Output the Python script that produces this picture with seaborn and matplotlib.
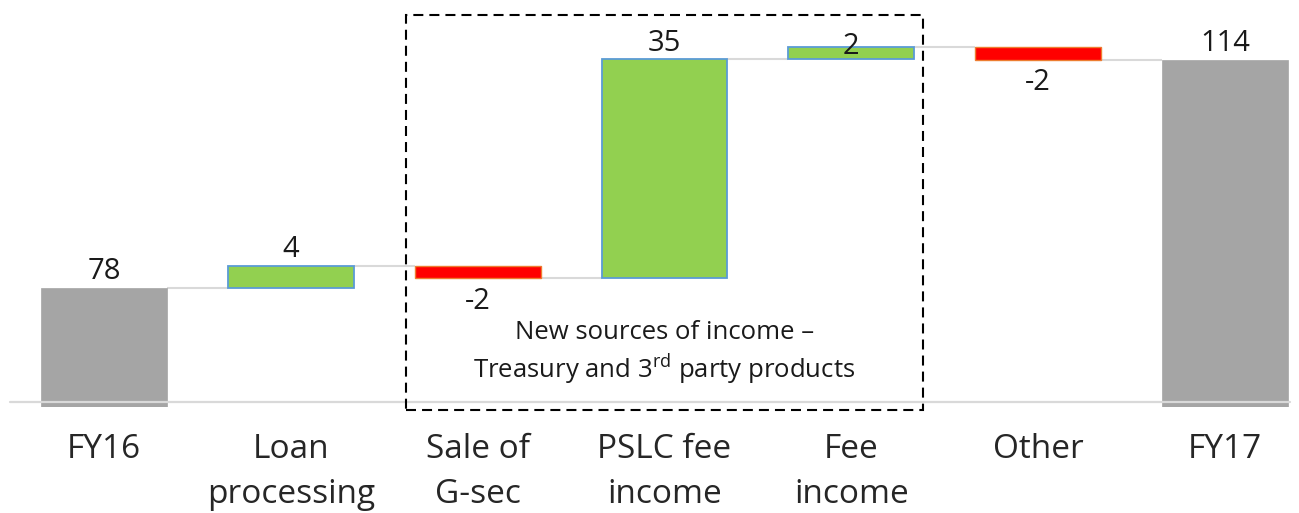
import matplotlib
matplotlib.use("Agg")
import matplotlib.pyplot as plt
import seaborn as sns
import pandas as pd
from matplotlib.patches import Rectangle

# ---- data ----
categories = ["FY16", "Loan\nprocessing", "Sale of\nG-sec", "PSLC fee\nincome",
              "Fee\nincome", "Other", "FY17"]
changes = [78, 3.5, -2.0, 34.6, 2.0, -2.1, 114]
kinds = ["total", "increase", "decrease", "increase", "increase", "decrease", "total"]
value_labels = ["78", "4", "-2", "35", "2", "-2", "114"]
box_text = "New sources of income \u2013\nTreasury and 3$^{\\mathregular{rd}}$ party products"

# ---- waterfall geometry from data ----
bottoms, ends = [], []
cum = 0.0
for c, k in zip(changes, kinds):
    if k == "total":
        bottoms.append(0.0)
        cum = c
    else:
        bottoms.append(cum)
        cum = cum + c
    ends.append(cum)

df = pd.DataFrame({"cat": categories, "height": changes, "bottom": bottoms, "kind": kinds})

sns.set_theme(style="white")
plt.rcParams["font.family"] = ["Open Sans", "DejaVu Sans"]
plt.rcParams["mathtext.fontset"] = "custom"
plt.rcParams["mathtext.rm"] = "Open Sans"

fig = plt.figure(figsize=(12.99, 5.13), dpi=100)
ax = fig.add_axes([0, 1 - 407 / 513, 1, 407 / 513])

styles = {
    "total": dict(color="#A5A5A5", edgecolor="#A5A5A5", linewidth=0.5),
    "increase": dict(color="#92D050", edgecolor="#5B9BD5", linewidth=1.3),
    "decrease": dict(color="#FF0000", edgecolor="#ED7D31", linewidth=1.0),
}
bar_w = 0.674
for kind, st in styles.items():
    sub = df[df["kind"] == kind]
    sns.barplot(data=sub, x="cat", y="height", order=categories,
                bottom=sub["bottom"].to_numpy(), width=bar_w,
                errorbar=None, saturation=1, ax=ax, zorder=3, **st)

# connectors
for i in range(len(categories) - 1):
    ax.hlines(ends[i], i + bar_w / 2, i + 1 - bar_w / 2, color="#D9D9D9", lw=1.5, zorder=2)

# baseline
ax.axhline(60, xmin=10 / 1299, xmax=1290 / 1299, color="#D9D9D9", lw=1.6, zorder=4)

# value labels
text_color = "#1A1A1A"
for i, (lab, k) in enumerate(zip(value_labels, kinds)):
    top = max(ends[i], bottoms[i]) if k != "total" else changes[i]
    if k == "decrease":
        ax.annotate(lab, (i, ends[i]), xytext=(0, -6.0), textcoords="offset points",
                    ha="center", va="top", fontsize=21, color=text_color)
    else:
        off = 6.3
        if categories[i] == "Fee\nincome":
            off = -5.3
        ax.annotate(lab, (i, top), xytext=(0, off), textcoords="offset points",
                    ha="center", va="baseline", fontsize=21, color=text_color, zorder=5)

# dashed box and its text
ax.add_patch(Rectangle((1.617, 58.74), 4.384 - 1.617, 121.1 - 58.74, fill=False,
                       edgecolor="black", lw=1.5, linestyle=(0, (4.8, 2.9)),
                       clip_on=False, zorder=6))
ax.text(3.0, 67.6, box_text, ha="center", va="center", fontsize=18.5,
        linespacing=1.25, color=text_color)

ax.set_xlim(-104 / 186.83, 6 + 74 / 186.83)
ax.set_ylim(59.21, 123.47)
ax.set_xticks(range(len(categories)))
ax.set_xticklabels(categories, fontsize=24, color="#262626", linespacing=1.48)
ax.tick_params(axis="x", length=0, pad=19)
ax.set_yticks([])
ax.set_xlabel("")
ax.set_ylabel("")
for s in ax.spines.values():
    s.set_visible(False)

fig.savefig("out.png", dpi=100)
